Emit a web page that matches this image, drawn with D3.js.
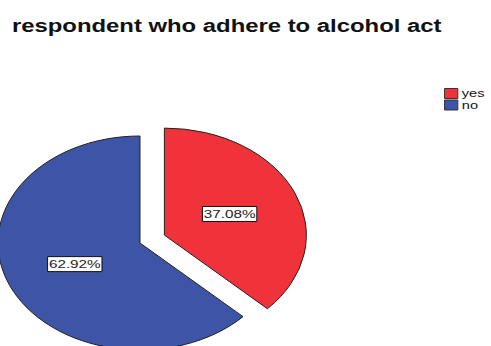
<!DOCTYPE html>
<html>
<head>
<meta charset="utf-8">
<script src="https://cdn.jsdelivr.net/npm/d3@7"></script>
<style>
body { margin: 0; background: #fff; }
</style>
</head>
<body>
<script>
// data
let categories = ['yes', 'no'];
let percents = [37.08, 62.92];
let colors = ['#f0323a', '#3e55a7'];
let title = 'respondent who adhere to alcohol act';

let width = 491, height = 346;
let squash = 1.327;   // the original picture is stretched horizontally

let svg = d3.select('body').append('svg')
    .attr('width', width)
    .attr('height', height)
    .style('font-family', 'Liberation Sans, Arial, sans-serif');

let root = svg.append('g')
    .attr('transform', 'scale(' + squash + ',1)');

root.append('text')
    .attr('x', 9)
    .attr('y', 32)
    .style('font-size', '18px')
    .style('font-weight', 'bold')
    .attr('fill', '#111')
    .text(title);

let radius = 107;
let explode = 20;
let cx = 105.5, cy = 243;

let pie = d3.pie().sort(null).value(function (d) { return d; });
let arcs = pie(percents);
let arc = d3.arc().innerRadius(0).outerRadius(radius);
let labelArc = d3.arc().innerRadius(radius * 0.5).outerRadius(radius * 0.5);

function shift(d, i) {
    if (i !== 0) return [0, 0];
    let a = (d.startAngle + d.endAngle) / 2;
    return [Math.sin(a) * explode, -Math.cos(a) * explode];
}

let chart = root.append('g')
    .attr('transform', 'translate(' + cx + ',' + cy + ')');

let slice = chart.selectAll('g.slice')
    .data(arcs)
    .enter()
    .append('g')
    .attr('class', 'slice')
    .attr('transform', function (d, i) {
        let s = shift(d, i);
        return 'translate(' + s[0] + ',' + s[1] + ')';
    });

slice.append('path')
    .attr('d', arc)
    .attr('fill', function (d, i) { return colors[i]; })
    .attr('stroke', '#222')
    .attr('stroke-width', 1)
    .attr('vector-effect', 'non-scaling-stroke');

let label = slice.append('g')
    .attr('transform', function (d) {
        let c = labelArc.centroid(d);
        return 'translate(' + c[0] + ',' + c[1] + ')';
    });
label.append('text')
    .attr('text-anchor', 'middle')
    .attr('dy', '0.35em')
    .style('font-size', '11.5px')
    .attr('fill', '#222')
    .text(function (d) { return d.data.toFixed(2) + '%'; });
label.each(function () {
    let g = d3.select(this);
    let bb = g.select('text').node().getBBox();
    g.insert('rect', 'text')
        .attr('x', bb.x - 1)
        .attr('y', -7.5)
        .attr('width', bb.width + 2)
        .attr('height', 15)
        .attr('fill', '#fff')
        .attr('stroke', '#111')
        .attr('stroke-width', 1)
        .attr('vector-effect', 'non-scaling-stroke');
});

// legend
let legend = root.append('g').attr('transform', 'translate(335,88.5)');
let item = legend.selectAll('g')
    .data(categories)
    .enter()
    .append('g')
    .attr('transform', function (d, i) { return 'translate(0,' + (i * 11.5) + ')'; });
item.append('rect')
    .attr('width', 10)
    .attr('height', 10)
    .attr('fill', function (d, i) { return colors[i]; })
    .attr('stroke', '#333')
    .attr('stroke-width', 1)
    .attr('vector-effect', 'non-scaling-stroke');
item.append('text')
    .attr('x', 13)
    .attr('y', 8.5)
    .style('font-size', '11px')
    .attr('fill', '#111')
    .text(function (d) { return d; });
</script>
</body>
</html>
